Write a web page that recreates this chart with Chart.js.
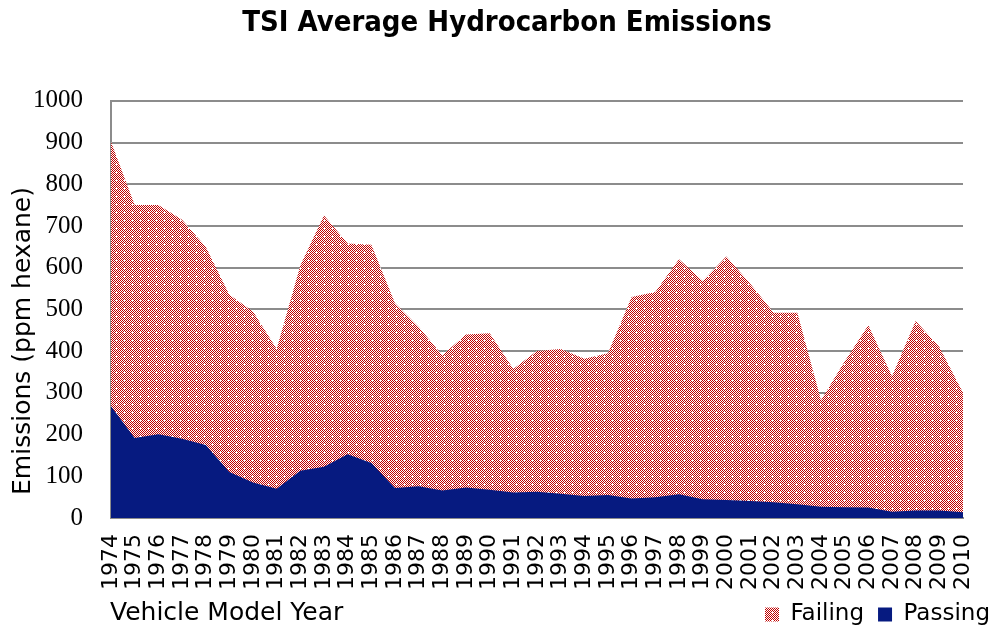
<!DOCTYPE html>
<html>
<head>
<meta charset="utf-8">
<script src="https://cdn.jsdelivr.net/npm/chart.js@4.4.1/dist/chart.umd.min.js"></script>
<style>
  html, body { margin: 0; padding: 0; background: #fff; }
  #wrap { width: 992px; height: 628px; }
</style>
</head>
<body>
<div id="wrap"><canvas id="chart"></canvas></div>
<script>
const years = ['1974','1975','1976','1977','1978','1979','1980','1981','1982','1983',
  '1984','1985','1986','1987','1988','1989','1990','1991','1992','1993','1994','1995',
  '1996','1997','1998','1999','2000','2001','2002','2003','2004','2005','2006','2007',
  '2008','2009','2010'];

const failing = [902, 750, 750, 715, 650, 535, 495, 405, 605, 725,
  658, 655, 515, 458, 390, 440, 443, 357, 400, 405, 382, 395,
  530, 542, 620, 568, 627, 562, 492, 492, 282, 375, 462, 340,
  472, 410, 300];

const passing = [268, 192, 201, 190, 175, 110, 85, 70, 113, 123,
  153, 132, 72, 76, 66, 73, 68, 61, 63, 58, 53, 55,
  47, 50, 57, 45, 43, 41, 38, 33, 27, 26, 25, 15,
  18, 18, 14];

const yTicks = [0, 100, 200, 300, 400, 500, 600, 700, 800, 900, 1000];

// red checker fill like the excel pattern
function makeChecker() {
  const c = document.createElement('canvas');
  c.width = 8; c.height = 8;
  const g = c.getContext('2d');
  g.fillStyle = '#fff';
  g.fillRect(0, 0, 8, 8);
  g.fillStyle = '#c00000';
  for (let y = 0; y < 8; y++) {
    for (let x = 0; x < 8; x++) {
      if ((x + y) % 2 === 0 && !(x === 4 && y === 4)) g.fillRect(x, y, 1, 1);
    }
  }
  return g.createPattern(c, 'repeat');
}
const checker = makeChecker();

// axis titles placed by hand, title + legend nudged right like the original
const textPlugin = {
  id: 'axisText',
  afterLayout(chart) {
    const t = chart.titleBlock;
    if (t) { t.left = 22; t.right = 992; t.width = 970; }
    const lg = chart.legend;
    if (lg) { lg.right = 1004; }
  },
  afterDraw(chart) {
    const ctx = chart.ctx;
    ctx.save();
    ctx.fillStyle = '#000';
    ctx.font = '25px "DejaVu Sans", sans-serif';
    ctx.textAlign = 'left';
    ctx.textBaseline = 'alphabetic';
    ctx.fillText('Vehicle Model Year', 110, 620);

    ctx.translate(30, 341);
    ctx.rotate(-Math.PI / 2);
    ctx.textAlign = 'center';
    ctx.fillText('Emissions (ppm hexane)', 0, 0);
    ctx.restore();
  }
};

new Chart(document.getElementById('chart').getContext('2d'), {
  type: 'line',
  data: {
    labels: years,
    datasets: [
      {
        label: 'Passing',
        data: passing,
        backgroundColor: '#061a80',
        borderColor: '#061a80',
        borderWidth: 0,
        pointRadius: 0,
        fill: 'origin',
      },
      {
        label: 'Failing',
        data: failing,
        backgroundColor: checker,
        borderColor: checker,
        borderWidth: 0,
        pointRadius: 0,
        fill: 'origin',
      },
    ],
  },
  options: {
    responsive: true,
    maintainAspectRatio: false,
    animation: false,
    layout: {
      padding: { left: 33, right: 29, top: 6, bottom: -8 },
    },
    scales: {
      x: {
        offset: false,
        grid: { display: false, drawTicks: false },
        border: { display: true, color: '#8c8c8c', width: 2 },
        ticks: {
          color: '#000',
          font: { family: '"DejaVu Sans", sans-serif', size: 22 },
          minRotation: 90,
          maxRotation: 90,
          autoSkip: false,
          padding: 16,
        },
        afterFit(axis) {
          axis.height = 71;
          axis.paddingLeft = 0;
          axis.paddingRight = 0;
        },
      },
      y: {
        min: 0,
        max: 1000,
        afterBuildTicks(axis) {
          axis.ticks = yTicks.map(v => ({ value: v }));
        },
        grid: { color: '#8c8c8c', lineWidth: 2, drawTicks: false },
        border: { display: true, color: '#8c8c8c', width: 2 },
        ticks: {
          color: '#000',
          font: { family: '"Liberation Serif", serif', size: 25 },
          padding: 28,
          callback: v => String(v),
        },
        afterFit(axis) {
          axis.width = 78;
          axis.paddingTop = 0;
          axis.paddingBottom = 0;
        },
      },
    },
    plugins: {
      title: {
        display: true,
        text: 'TSI Average Hydrocarbon Emissions',
        color: '#000',
        font: { family: '"DejaVu Sans Condensed", "DejaVu Sans", sans-serif', size: 29, weight: 'bold' },
        padding: { top: 0, bottom: 60 },
      },
      legend: {
        display: true,
        position: 'bottom',
        align: 'end',
        reverse: true,
        labels: {
          color: '#000',
          boxWidth: 14,
          boxHeight: 14,
          padding: 14,
          font: { family: '"DejaVu Sans", sans-serif', size: 23 },
        },
      },
      tooltip: { enabled: false },
    },
  },
  plugins: [textPlugin],
});
</script>
</body>
</html>
